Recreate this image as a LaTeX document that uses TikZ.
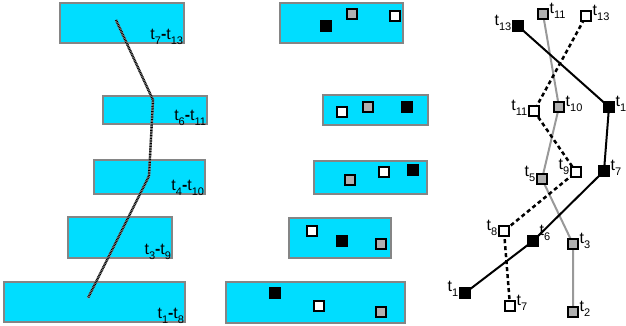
\documentclass[tikz,border=0pt]{standalone}
\usepackage{fontspec}
\setmainfont{Liberation Sans}
\newcommand{\tsb}[1]{t\raisebox{-5pt}{\fontsize{11}{12}\selectfont #1}}
\newcommand{\trange}[2]{t\raisebox{-5.5pt}{\fontsize{11}{12}\selectfont #1}\textbf{-}t\raisebox{-5.5pt}{\fontsize{11}{12}\selectfont #2}}
\definecolor{boxcyan}{HTML}{00DDFF}
\definecolor{boxedge}{HTML}{858585}
\definecolor{sqgray}{HTML}{B0B0B0}
\definecolor{linegray}{HTML}{999999}
\begin{document}
\begin{tikzpicture}[x=1pt,y=-1pt,
  box/.style={draw=boxedge, fill=boxcyan, line width=2.5pt, inner sep=0pt},
  rlab/.style={font=\fontsize{16}{17}\selectfont, inner sep=0pt, anchor=south east},
  sqb/.style={fill=black, draw=black, line width=1pt, minimum size=11pt, inner sep=0pt},
  sqw/.style={fill=white, draw=black, line width=2pt, minimum size=10pt, inner sep=0pt},
  sqg/.style={fill=sqgray, draw=black, line width=2pt, minimum size=10pt, inner sep=0pt},
  lab/.style={font=\fontsize{16}{17}\selectfont, inner sep=0.5pt},
  blk/.style={draw=black, line width=2pt},
  gry/.style={draw=linegray, line width=2pt},
  dsh/.style={draw=black, line width=2.5pt, dash pattern=on 4pt off 3pt},
]
\useasboundingbox (0,0) rectangle (626,326);

% ---- left column ----
\node[box, minimum width=124pt, minimum height=40pt] (L1) at (122,23) {};
\node[box, minimum width=104pt, minimum height=28pt] (L2) at (155,110) {};
\node[box, minimum width=111pt, minimum height=34pt] (L3) at (149.5,177) {};
\node[box, minimum width=104pt, minimum height=41pt] (L4) at (120,237.5) {};
\node[box, minimum width=181pt, minimum height=40pt] (L5) at (94.5,302) {};
\node[rlab] (l1t) at ([shift={(-2pt,-1pt)}]L1.south east) {\trange{7}{13}};
\node[rlab] (l2t) at ([shift={(-2pt,-1pt)}]L2.south east) {\trange{6}{11}};
\node[rlab] (l3t) at ([shift={(-2pt,-1pt)}]L3.south east) {\trange{4}{10}};
\node[rlab] (l4t) at ([shift={(-2pt,-1pt)}]L4.south east) {\trange{3}{9}};
\node[rlab] (l5t) at ([shift={(-2pt,-1pt)}]L5.south east) {\trange{1}{8}};
\coordinate (p1) at (116,20);
\coordinate (p2) at (153,100);
\coordinate (p3) at (149,176);
\coordinate (p4) at (88,298);
\draw[line width=2.4pt, draw=gray!70] (p1) -- (p2) -- (p3) -- (p4);
\draw[line width=2.4pt, draw=black, dash pattern=on 0.8pt off 0.8pt] (p1) -- (p2) -- (p3) -- (p4);

% ---- middle column ----
\node[box, minimum width=123pt, minimum height=40pt] (M1) at (341.5,23) {};
\node[box, minimum width=105pt, minimum height=30pt] (M2) at (375.5,110) {};
\node[box, minimum width=113pt, minimum height=33pt] (M3) at (370.5,177.5) {};
\node[box, minimum width=102pt, minimum height=40pt] (M4) at (340,238) {};
\node[box, minimum width=179pt, minimum height=41pt] (M5) at (315.5,302.5) {};
\node[sqb] (m1b) at (326,26) {};
\node[sqg] (m1g) at (352,14) {};
\node[sqw] (m1w) at (395,16) {};
\node[sqw] (m2w) at (342,112) {};
\node[sqg] (m2g) at (368,107) {};
\node[sqb] (m2b) at (407,107) {};
\node[sqg] (m3g) at (350,180) {};
\node[sqw] (m3w) at (384,172) {};
\node[sqb] (m3b) at (413,170) {};
\node[sqw] (m4w) at (312,231) {};
\node[sqb] (m4b) at (342,241) {};
\node[sqg] (m4g) at (381,244) {};
\node[sqb] (m5b) at (275,293) {};
\node[sqw] (m5w) at (319,306) {};
\node[sqg] (m5g) at (381,312) {};

% ---- right column ----
\coordinate (cb13) at (518,26);
\coordinate (cb12) at (609,107);
\coordinate (cb7) at (604,171);
\coordinate (cb6) at (533,241);
\coordinate (cb1) at (465,293);
\coordinate (cg11) at (543,14);
\coordinate (cg10) at (559,107);
\coordinate (cg5) at (542,179);
\coordinate (cg3) at (573,244);
\coordinate (cg2) at (573,312);
\coordinate (cw13) at (586,16);
\coordinate (cw11) at (534,111);
\coordinate (cw9) at (576,172);
\coordinate (cw8) at (504,231);
\coordinate (cw7) at (510,306);

\draw[gry] (cg2) -- (cg3) -- (cg5) -- (cg10) -- (cg11);
\draw[dsh] (cw7) -- (cw8) -- (cw9) -- (cw11) -- (cw13);
\draw[blk] (cb1) -- (cb6) -- (cb7) -- (cb12) -- (cb13);

\node[sqb] (b13) at (cb13) {};
\node[sqb] (b12) at (cb12) {};
\node[sqb] (b7) at (cb7) {};
\node[sqb] (b6) at (cb6) {};
\node[sqb] (b1) at (cb1) {};
\node[sqg] (g11) at (cg11) {};
\node[sqg] (g10) at (cg10) {};
\node[sqg] (g5) at (cg5) {};
\node[sqg] (g3) at (cg3) {};
\node[sqg] (g2) at (cg2) {};
\node[sqw] (w13) at (cw13) {};
\node[sqw] (w11) at (cw11) {};
\node[sqw] (w9) at (cw9) {};
\node[sqw] (w8) at (cw8) {};
\node[sqw] (w7) at (cw7) {};

\node[lab, anchor=south east] (lb13) at ([yshift=1pt]b13.south west) {\tsb{13}};
\node[lab, anchor=south west] (lb12) at ([yshift=1pt]b12.south east) {\tsb{12}};
\node[lab, anchor=south west] (lb7) at ([yshift=1pt]b7.south east) {\tsb{7}};
\node[lab, anchor=south west] (lb6) at ([yshift=6pt]b6.south east) {\tsb{6}};
\node[lab, anchor=south east] (lb1) at ([yshift=2pt]b1.south west) {\tsb{1}};
\node[lab, anchor=south west] (lg11) at ([yshift=1pt]g11.south east) {\tsb{11}};
\node[lab, anchor=south west] (lg10) at ([yshift=1pt]g10.south east) {\tsb{10}};
\node[lab, anchor=south east] (lg5) at ([yshift=3pt]g5.south west) {\tsb{5}};
\node[lab, anchor=south west] (lg3) at ([yshift=1pt]g3.south east) {\tsb{3}};
\node[lab, anchor=south west] (lg2) at ([yshift=1pt]g2.south east) {\tsb{2}};
\node[lab, anchor=south west] (lw13) at ([yshift=1pt]w13.south east) {\tsb{13}};
\node[lab, anchor=south east] (lw11) at ([yshift=1pt]w11.south west) {\tsb{11}};
\node[lab, anchor=south east] (lw9) at ([yshift=3pt]w9.south west) {\tsb{9}};
\node[lab, anchor=south east] (lw8) at ([yshift=1pt]w8.south west) {\tsb{8}};
\node[lab, anchor=south west] (lw7) at ([yshift=1pt]w7.south east) {\tsb{7}};
\end{tikzpicture}
\end{document}
